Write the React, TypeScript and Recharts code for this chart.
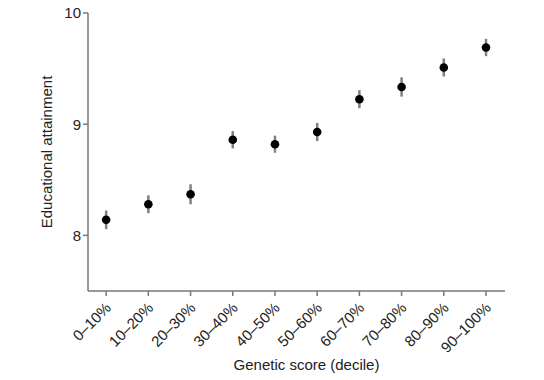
import React from 'react';
import { ScatterChart, Scatter, XAxis, YAxis, ErrorBar, Label } from 'recharts';

const deciles = ['0–10%', '10–20%', '20–30%', '30–40%', '40–50%', '50–60%', '60–70%', '70–80%', '80–90%', '90–100%'];
const means = [8.14, 8.28, 8.37, 8.86, 8.82, 8.93, 9.225, 9.335, 9.51, 9.69];
const errors = [0.084, 0.08, 0.09, 0.078, 0.077, 0.081, 0.081, 0.087, 0.081, 0.078];
const yTicks = [8, 9, 10];

const data = deciles.map((label, i) => ({ x: i + 1, label, y: means[i], err: errors[i] }));

const FONT = '"Liberation Sans", Arial, Helvetica, sans-serif';
const AXIS = '#777777';
const TEXT = '#222222';

function DecileTick(props: any) {
  const { x, y, payload } = props;
  const label = deciles[Math.round(payload.value) - 1] ?? '';
  return (
    <g transform={`translate(${x + 3},${y + 8})`}>
      <text
        x={0}
        y={0}
        dy={4}
        textAnchor="end"
        transform="rotate(-45)"
        fill={TEXT}
        fontSize={15}
        fontFamily={FONT}
      >
        {label}
      </text>
    </g>
  );
}

function Dot(props: any) {
  const { cx, cy } = props;
  return <circle cx={cx} cy={cy} r={4.3} fill="#000" />;
}

export default function App() {
  return (
    <div style={{ position: 'absolute', left: 0, top: 0, background: '#fff' }}>
      <ScatterChart width={544} height={380} margin={{ top: 13, right: 39, bottom: 0, left: 0 }}>
        <XAxis
          type="number"
          dataKey="x"
          domain={[0.57, 10.45]}
          ticks={[1, 2, 3, 4, 5, 6, 7, 8, 9, 10]}
          height={89}
          stroke={AXIS}
          strokeWidth={1.5}
          tickSize={5}
          tick={<DecileTick />}
          allowDataOverflow
        >
          <Label
            value="Genetic score (decile)"
            position="insideBottom"
            offset={10}
            dx={10}
            style={{ fill: TEXT, fontSize: 15, fontFamily: FONT }}
          />
        </XAxis>
        <YAxis
          type="number"
          dataKey="y"
          domain={[7.5, 10]}
          ticks={yTicks}
          width={88}
          stroke={AXIS}
          strokeWidth={1.5}
          tickSize={5}
          tick={{ fill: TEXT, fontSize: 15, fontFamily: FONT }}
          allowDataOverflow
        >
          <Label
            value="Educational attainment"
            angle={-90}
            position="insideLeft"
            offset={47}
            style={{ fill: TEXT, fontSize: 15, fontFamily: FONT, textAnchor: 'middle' }}
          />
        </YAxis>
        <Scatter data={data} shape={<Dot />} isAnimationActive={false}>
          <ErrorBar dataKey="err" direction="y" width={0} stroke="#808080" strokeWidth={2.5} />
        </Scatter>
      </ScatterChart>
    </div>
  );
}
